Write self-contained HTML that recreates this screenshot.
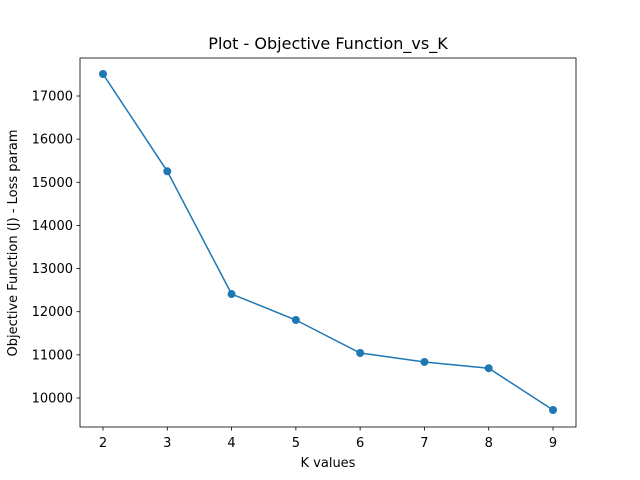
<!DOCTYPE html>
<html><head><meta charset="utf-8"><style>
body{margin:0;background:#fff;}
svg{display:block;font-family:"DejaVu Sans","Liberation Sans",sans-serif;}
</style></head><body>
<svg id="chart" width="640" height="480">
<rect width="640" height="480" fill="#fff"/>
<text x="328" y="49" text-anchor="middle" font-size="16">Plot - Objective Function_vs_K</text>
<g id="xt"></g><g id="yt"></g>
<polyline id="line" fill="none" stroke="#1f77b4" stroke-width="1.5"/>
<g id="pts"></g>
<rect x="80" y="58" width="496" height="369" fill="none" stroke="#000" stroke-width="0.8"/>
<text x="328" y="467" text-anchor="middle" font-size="13">K values</text>
<text transform="translate(17,243) rotate(-90)" text-anchor="middle" font-size="13">Objective Function (J) - Loss param</text>
</svg>
<script>
const kValues=[2,3,4,5,6,7,8,9];
const lossValues=[17510,15255,12410,11808,11043,10835,10690,9722];
const xTicks=[2,3,4,5,6,7,8,9];
const yTicks=[10000,11000,12000,13000,14000,15000,16000,17000];
const X=v=>103+(v-2)*(450/7);
const Y=v=>398-(v-10000)*(302/7000);
const ns="http://www.w3.org/2000/svg";
function mk(t,a,p){const e=document.createElementNS(ns,t);for(const k in a)e.setAttribute(k,a[k]);p.appendChild(e);return e;}
const xt=document.getElementById('xt'),yt=document.getElementById('yt');
xTicks.forEach(v=>{
 const l=mk('line',{x1:X(v),x2:X(v),y1:427,y2:430.5,stroke:'#000','stroke-width':0.8},xt);
 
 
 const t=mk('text',{x:X(v),y:447,'text-anchor':'middle','font-size':13},xt);t.textContent=v;
 
 
});
yTicks.forEach(v=>{
 const l=mk('line',{x1:76.5,x2:80,y1:Y(v),y2:Y(v),stroke:'#000','stroke-width':0.8},yt);
 
 
 const t=mk('text',{x:73,y:Y(v)+4.5,'text-anchor':'end','font-size':13},yt);t.textContent=v;
 
 
});
document.getElementById('line').setAttribute('points',kValues.map((k,i)=>X(k)+','+Y(lossValues[i])).join(' '));
const pts=document.getElementById('pts');
kValues.forEach((k,i)=>{
 const c=mk('circle',{cx:X(k),cy:Y(lossValues[i]),r:4,fill:'#1f77b4'},pts);
 
 
});
</script>
</body></html>
